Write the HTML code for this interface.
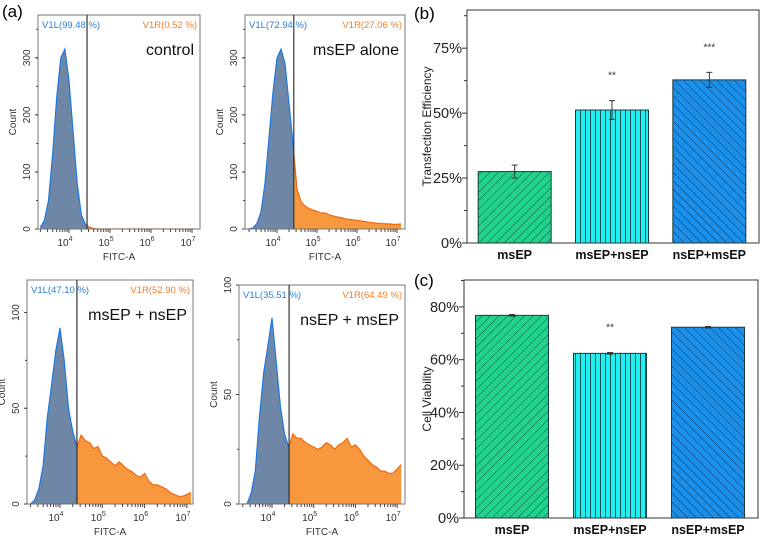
<!DOCTYPE html>
<html><head><meta charset="utf-8"><style>
body{margin:0;background:#fff;}
svg{display:block;font-family:"Liberation Sans",sans-serif;}
</style></head><body>
<svg id="fig" width="760" height="538" viewBox="0 0 760 538" xmlns="http://www.w3.org/2000/svg">
<defs>
<pattern id="hatchF" patternUnits="userSpaceOnUse" width="6" height="6" patternTransform="rotate(45)"><rect width="6" height="6" fill="#22d28c"/><line x1="0" y1="0" x2="0" y2="6" stroke="#1a5a40" stroke-width="1"/></pattern>
<pattern id="hatchV" patternUnits="userSpaceOnUse" width="5" height="6"><rect width="5" height="6" fill="#22f0f0"/><line x1="0.5" y1="0" x2="0.5" y2="6" stroke="#1a5560" stroke-width="1"/></pattern>
<pattern id="hatchB" patternUnits="userSpaceOnUse" width="6" height="6" patternTransform="rotate(-45)"><rect width="6" height="6" fill="#1a90ea"/><line x1="0" y1="0" x2="0" y2="6" stroke="#153a66" stroke-width="1"/></pattern>
</defs>
<text x="2" y="17" font-size="17">(a)</text>
<text x="414" y="19" font-size="17">(b)</text>
<text x="414" y="286" font-size="17">(c)</text>
<g id="hists"></g>
<g id="bars"></g>
</svg>
<script>
// ---------- Histogram data (counts per 0.1-decade bin, starting at log10 = 3.3) ----------
const binStart = 3.3;
const binStep = 0.1;
const controlCounts = [3,15,50,130,230,300,315,260,170,80,25,8,3,1,0,0,0,0,0,0,0,0,0,0,0,0,0,0,0,0,0,0,0,0,0,0,0,0,0];
const msepCounts = [0,2,10,30,80,160,240,300,315,290,220,150,70,48,40,36,33,31,28,28,25,23,21,20,18,17,16,15,14,13,12,11,10,10,9,9,8,8,9];
const msnsCounts = [0,2,8,20,45,62,80,92,75,50,38,30,36,33,32,29,30,25,24,22,20,22,20,18,17,15,14,16,12,10,10,9,8,6,5,4,4,5,6];
const nsmsCounts = [0,0,5,15,40,60,72,85,65,45,32,26,32,30,30,28,27,26,25,26,28,27,25,27,28,30,26,27,25,22,20,18,17,15,15,14,14,16,18];
const histTitles = ["control","msEP alone","msEP + nsEP","nsEP + msEP"];
const leftPct = ["V1L(99.48 %)","V1L(72.94 %)","V1L(47.10 %)","V1L(35.51 %)"];
const rightPct = ["V1R(0.52 %)","V1R(27.06 %)","V1R(52.90 %)","V1R(64.49 %)"];
const gateLog = [4.44, 4.42, 4.4, 4.41];
const countTicks = [[0,100,200,300],[0,100,200,300],[0,50,100],[0,50,100]];
const countMax = [375, 375, 117, 100];
const decadeLabels = ["4","5","6","7"];

// ---------- Bar data ----------
const barCats = ["msEP","msEP+nsEP","nsEP+msEP"];
const teValues = [27.5, 51.2, 62.8];
const teErrors = [2.5, 3.6, 2.9];
const teStars = ["", "**", "***"];
const teTicks = [0,25,50,75];
const cvValues = [76.8, 62.4, 72.3];
const cvErrors = [0.3, 0.3, 0.3];
const cvStars = ["", "**", ""];
const cvTicks = [0,20,40,60,80];

const NS = "http://www.w3.org/2000/svg";
function mk(parent, tag, attrs, text){
  const e = document.createElementNS(NS, tag);
  for (const k in attrs) e.setAttribute(k, attrs[k]);
  if (text !== undefined) e.textContent = text;
  parent.appendChild(e);
  return e;
}

const hLayouts = [
  {x0:38, x1:200, yTop:15, yBot:229, dec4:69, dec:41},
  {x0:245, x1:405, yTop:15, yBot:229, dec4:277, dec:40},
  {x0:27, x1:193, yTop:280, yBot:504, dec4:60, dec:42.3},
  {x0:239, x1:405, yTop:285, yBot:504, dec4:272, dec:41.7}
];
const allCounts = [controlCounts, msepCounts, msnsCounts, nsmsCounts];
const hg = document.getElementById("hists");

hLayouts.forEach((L, i) => {
  const g = mk(hg, "g", {});
  
  
  const xs = lg => L.dec4 + (lg - 4) * L.dec;
  const ys = c => L.yBot - c / countMax[i] * (L.yBot - L.yTop);
  const counts = allCounts[i];
  const gx = xs(gateLog[i]);
  const pts = counts.map((c, k) => [xs(binStart + k * binStep), ys(c)]);
  const clipL = mk(g, "clipPath", {id:"cl"+i}); mk(clipL, "rect", {x:L.x0, y:L.yTop, width:gx-L.x0, height:L.yBot-L.yTop});
  const clipR = mk(g, "clipPath", {id:"cr"+i}); mk(clipR, "rect", {x:gx, y:L.yTop, width:L.x1-gx, height:L.yBot-L.yTop});
  const line = pts.map(p => p[0].toFixed(1)+","+p[1].toFixed(1)).join(" ");
  const poly = pts[0][0].toFixed(1)+","+L.yBot+" "+line+" "+pts[pts.length-1][0].toFixed(1)+","+L.yBot;
  const a1 = mk(g, "polygon", {points:poly, fill:"#6f87a6", "clip-path":"url(#cl"+i+")"});
  
  
  mk(g, "polyline", {points:line, fill:"none", stroke:"#1e78e0", "stroke-width":1.2, "clip-path":"url(#cl"+i+")"});
  const a2 = mk(g, "polygon", {points:poly, fill:"#f7983e", "clip-path":"url(#cr"+i+")"});
  
  
  mk(g, "polyline", {points:line, fill:"none", stroke:"#f06810", "stroke-width":1.2, "clip-path":"url(#cr"+i+")"});
  mk(g, "rect", {x:L.x0, y:L.yTop, width:L.x1-L.x0, height:L.yBot-L.yTop, fill:"none", stroke:"#777", "stroke-width":1});
  const gl = mk(g, "line", {x1:gx, y1:L.yTop, x2:gx, y2:L.yBot, stroke:"#333", "stroke-width":1.2});
  
  
  for (let d = 3; d <= 7; d++) {
    for (let m = 1; m <= 9; m++) {
      const lg = d + Math.log10(m);
      const x = xs(lg);
      if (x < L.x0 || x > L.x1) continue;
      mk(g, "line", {x1:x, y1:L.yBot, x2:x, y2:L.yBot + (m===1?4:3), stroke:"#444", "stroke-width":1});
    }
  }
  decadeLabels.forEach(dl => {
    const x = xs(+dl);
    const t = mk(g, "text", {x:x-4, y:L.yBot+17, "font-size":10, fill:"#333", "text-anchor":"middle"}, "10");
    mk(t, "tspan", {dy:-5, "font-size":7}, dl);
  });
  const xt = mk(g, "text", {x:(L.x0+L.x1)/2, y:L.yBot+31, "font-size":10, fill:"#333", "text-anchor":"middle"}, "FITC-A");
  
  
  countTicks[i].forEach(v => {
    const y = ys(v);
    mk(g, "line", {x1:L.x0-3, y1:y, x2:L.x0, y2:y, stroke:"#444"});
    mk(g, "text", {x:L.x0-8, y:y, "font-size":10, fill:"#333", "text-anchor":"middle", transform:"rotate(-90 "+(L.x0-8)+" "+y+")"}, String(v));
  });
  for (let v = 0; v <= countMax[i]; v += countTicks[i][1]/2) {
    const y = ys(v);
    mk(g, "line", {x1:L.x0-2, y1:y, x2:L.x0, y2:y, stroke:"#444"});
  }
  const yc = (L.yTop+L.yBot)/2;
  const yt = mk(g, "text", {x:L.x0-22, y:yc, "font-size":10, fill:"#333", "text-anchor":"middle", transform:"rotate(-90 "+(L.x0-22)+" "+yc+")"}, "Count");
  
  
  const tl = mk(g, "text", {x:L.x0+4, y:L.yTop+13, "font-size":9.5, fill:"#2a7ed8"}, leftPct[i]);
  
  
  const tr = mk(g, "text", {x:L.x1-3, y:L.yTop+13, "font-size":9.5, fill:"#f0802a", "text-anchor":"end"}, rightPct[i]);
  
  
  const ti = mk(g, "text", {x:L.x1-6, y:L.yTop+40, "font-size":16, fill:"#111", "text-anchor":"end"}, histTitles[i]);
  
  
});

const bg = document.getElementById("bars");
const fills = ["url(#hatchF)","url(#hatchV)","url(#hatchB)"];
const barL = [{x0:467, x1:759, yTop:10, yBot:243, max:89.7, title:"Transfection Efficiency", vals:teValues, errs:teErrors, stars:teStars, ticks:teTicks, minor:12.5, name:"transfection-chart"},
              {x0:464, x1:758, yTop:280, yBot:518, max:90.2, title:"Cell Viability", vals:cvValues, errs:cvErrors, stars:cvStars, ticks:cvTicks, minor:10, name:"viability-chart"}];
barL.forEach(B => {
  const g = mk(bg, "g", {});
  
  
  const ys = v => B.yBot - v / B.max * (B.yBot - B.yTop);
  const bw = 73, step = (B.x1 - B.x0) / barCats.length;
  const xc = k => B.x0 + step * (k + 0.5) - 1;
  barCats.forEach((c, k) => {
    const x = xc(k) - bw/2, y = ys(B.vals[k]);
    const r = mk(g, "rect", {x:x, y:y, width:bw, height:B.yBot-y, fill:fills[k], stroke:"#1d3b40", "stroke-width":1});
    
    
    const e1 = ys(B.vals[k]+B.errs[k]), e2 = ys(B.vals[k]-B.errs[k]);
    mk(g, "line", {x1:xc(k), y1:e1, x2:xc(k), y2:e2, stroke:"#333"});
    mk(g, "line", {x1:xc(k)-3, y1:e1, x2:xc(k)+3, y2:e1, stroke:"#333"});
    mk(g, "line", {x1:xc(k)-3, y1:e2, x2:xc(k)+3, y2:e2, stroke:"#333"});
    if (B.stars[k]) {
      const s = mk(g, "text", {x:xc(k), y:ys(B.vals[k]+B.errs[k]) - 22, "font-size":10, fill:"#333", "text-anchor":"middle"}, B.stars[k]);
      
      
    }
    const lb = mk(g, "text", {x:xc(k), y:B.yBot+16, "font-size":12.5, "font-weight":"bold", fill:"#111", "text-anchor":"middle"}, c);
    
    
  });
  mk(g, "rect", {x:B.x0, y:B.yTop, width:B.x1-B.x0, height:B.yBot-B.yTop, fill:"none", stroke:"#333", "stroke-width":1});
  B.ticks.forEach(v => {
    const y = ys(v);
    mk(g, "line", {x1:B.x0-5, y1:y, x2:B.x0, y2:y, stroke:"#333"});
    const t = mk(g, "text", {x:B.x0-5, y:y+5, "font-size":14.5, fill:"#222", "text-anchor":"end"}, v + "%");
    
    
  });
  for (let v = B.minor; v < B.max; v += B.minor*2) {
    const y = ys(v);
    mk(g, "line", {x1:B.x0-3, y1:y, x2:B.x0, y2:y, stroke:"#333"});
  }
  const yc = (B.yTop + B.yBot)/2;
  const yt = mk(g, "text", {x:431, y:yc, "font-size":12, fill:"#222", "text-anchor":"middle", transform:"rotate(-90 431 "+yc+")"}, B.title);
  
  
});
</script>
</body></html>
